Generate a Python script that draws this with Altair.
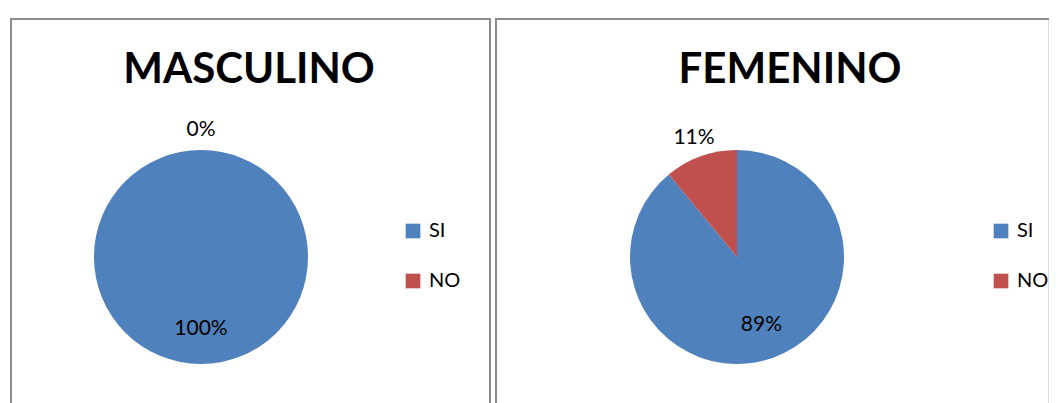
import altair as alt
import pandas as pd

categories = ["SI", "NO"]
masculino_pct = [100, 0]
femenino_pct = [89, 11]
panel_titles = ["MASCULINO", "FEMENINO"]
colors = ["#4F81BD", "#C0504D"]

FONT = "Lato"
H = 392


def panel(title, values, w, title_x, cx, cy, legend_x, right_border):
    df = pd.DataFrame({
        "cat": categories,
        "val": values,
        "order": list(range(len(categories))),
        "label": [f"{v}%" for v in values],
    })
    base = alt.Chart(df)
    color = alt.Color(
        "cat:N",
        scale=alt.Scale(domain=categories, range=colors),
        sort=categories,
        legend=alt.Legend(
            title=None, orient="none", legendX=legend_x, legendY=202,
            symbolType="square", symbolSize=215, symbolStrokeWidth=0,
            labelFont=FONT, labelFontSize=20, labelColor="black",
            labelOffset=6, rowPadding=30, padding=0,
        ),
    )
    theta = alt.Theta("val:Q", stack=True)
    arc = base.mark_arc(outerRadius=107, strokeWidth=0).encode(
        theta=theta, color=color, order=alt.Order("order:Q"),
        x=alt.value(cx), y=alt.value(cy),
    )
    inner = base.mark_text(
        radius=72, font=FONT, fontSize=21, color="black", baseline="middle"
    ).encode(
        theta=theta, order=alt.Order("order:Q"),
        text=alt.condition(alt.datum.cat == "SI", "label:N", alt.value("")),
        x=alt.value(cx), y=alt.value(cy),
    )
    outer = base.mark_text(
        radius=127, font=FONT, fontSize=21, color="black", baseline="middle"
    ).encode(
        theta=theta, order=alt.Order("order:Q"),
        text=alt.condition(alt.datum.cat == "NO", "label:N", alt.value("")),
        x=alt.value(cx), y=alt.value(cy),
    )
    tdf = pd.DataFrame({"t": [title]})
    ttl = alt.Chart(tdf).mark_text(
        font=FONT, fontSize=42, fontWeight="bold", color="black",
        baseline="alphabetic", align="center"
    ).encode(text="t:N", x=alt.value(title_x), y=alt.value(64))
    bdf = pd.DataFrame({"b": [0]})
    bc = alt.Chart(bdf)
    border_style = dict(color="#8C8C8C", strokeWidth=2)
    top = bc.mark_rule(**border_style).encode(
        x=alt.value(-1), x2=alt.value(w + 1), y=alt.value(0))
    left = bc.mark_rule(**border_style).encode(
        x=alt.value(0), y=alt.value(-1), y2=alt.value(H))
    layers = [top, left]
    if right_border:
        layers.append(bc.mark_rule(**border_style).encode(
            x=alt.value(w), y=alt.value(-1), y2=alt.value(H)))
    return alt.layer(*layers, arc, inner, outer, ttl).properties(
        width=w, height=H
    )


p1 = panel(panel_titles[0], masculino_pct, 479, 238, 190, 238, 392, True)
p2 = panel(panel_titles[1], femenino_pct, 552, 294, 241, 238, 495, False)

chart = alt.hconcat(p1, p2, spacing=0).resolve_scale(
    color="independent"
).resolve_legend(color="independent").properties(
    padding={"left": 0, "top": 8, "right": 0, "bottom": 0}
).configure_view(strokeWidth=0, fill="white").configure(background="white")

chart.save("out.html", embed_options={"renderer": "svg", "actions": False})
